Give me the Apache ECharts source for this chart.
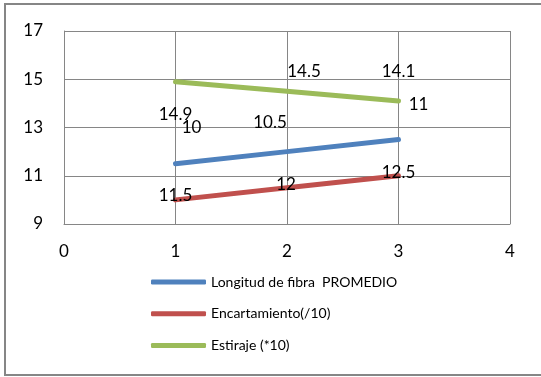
<!DOCTYPE html>
<html>
<head>
<meta charset="utf-8">
<script src="https://cdn.jsdelivr.net/npm/echarts@6/dist/echarts.min.js"></script>
<style>
  html, body { margin: 0; padding: 0; background: #fff; }
  #chart { width: 541px; height: 377px; }
</style>
</head>
<body>
<div id="chart"></div>
<script>
// Sample positions along the x axis
const xValues = [1, 2, 3];
// Series values
const longitudFibra = [11.5, 12, 12.5];
const encartamiento = [10, 10.5, 11];
const estiraje = [14.9, 14.5, 14.1];
// Series names shown in the legend
const seriesNames = ['Longitud de fibra  PROMEDIO', 'Encartamiento(/10)', 'Estiraje (*10)'];
// Axis ticks
const xTicks = [0, 1, 2, 3, 4];
const yTicks = [9, 11, 13, 15, 17];

const colors = ['#4F81BD', '#C0504D', '#9BBB59'];
const gridColor = '#868686';
const fontFamily = 'Lato, "Open Sans", sans-serif';

// Pixel offsets of each point's value label
const labelOffsets = [
  [[0, 32], [-1, 33], [0, 33]],
  [[16, -72], [-17, -65], [20, -71]],
  [[0, 33], [17, -20], [0, -29]]
];

const values = [longitudFibra, encartamiento, estiraje];

function buildSeries(i) {
  return {
    name: seriesNames[i],
    type: 'line',
    symbol: 'circle',
    symbolSize: 1,
    showSymbol: true,
    animation: false,
    lineStyle: { color: colors[i], width: 5, cap: 'round' },
    itemStyle: { color: colors[i] },
    data: xValues.map((x, j) => ({
      value: [x, values[i][j]],
      label: { offset: labelOffsets[i][j] }
    })),
    label: {
      show: true,
      position: 'inside',
      color: '#000',
      fontFamily: fontFamily,
      fontSize: 17,
      formatter: p => String(p.value[1])
    },
    emphasis: { disabled: true }
  };
}

const chart = echarts.init(document.getElementById('chart'), null, { renderer: 'canvas' });
chart.setOption({
  animation: false,
  backgroundColor: '#fff',
  color: colors,
  graphic: [{
    type: 'rect',
    shape: { x: 5, y: 4, width: 540, height: 371 },
    style: { fill: 'none', stroke: gridColor, lineWidth: 2 },
    silent: true
  }],
  grid: { left: 64, top: 31, width: 446, height: 193 },
  legend: {
    orient: 'vertical',
    left: 146,
    top: 269,
    itemWidth: 55,
    itemHeight: 5,
    itemGap: 15.7,
    icon: 'roundRect',
    data: seriesNames,
    textStyle: { color: '#000', fontFamily: fontFamily, fontSize: 14, lineHeight: 16 },
    selectedMode: false
  },
  xAxis: {
    type: 'value',
    min: xTicks[0],
    max: xTicks[xTicks.length - 1],
    interval: 1,
    axisLine: { show: true, lineStyle: { color: gridColor, width: 1 } },
    axisTick: { show: false },
    splitLine: { show: true, lineStyle: { color: gridColor, width: 1 } },
    axisLabel: { color: '#000', fontFamily: fontFamily, fontSize: 17, margin: 19 }
  },
  yAxis: {
    type: 'value',
    min: yTicks[0],
    max: yTicks[yTicks.length - 1],
    interval: 2,
    axisLine: { show: true, lineStyle: { color: gridColor, width: 1 } },
    axisTick: { show: false },
    splitLine: { show: true, lineStyle: { color: gridColor, width: 1 } },
    axisLabel: { color: '#000', fontFamily: fontFamily, fontSize: 17, margin: 21 }
  },
  series: [0, 1, 2].map(buildSeries)
});
</script>
</body>
</html>
